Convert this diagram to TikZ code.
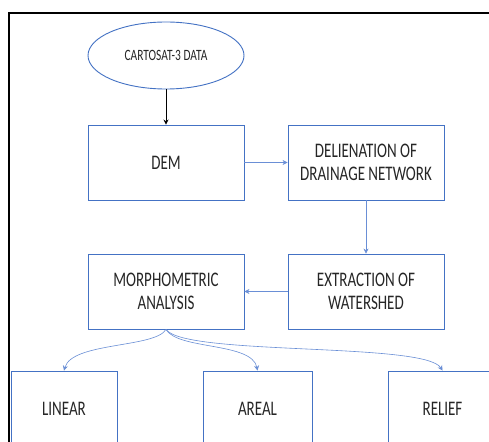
\documentclass[tikz,border=0pt]{standalone}
\usepackage{fontspec}
\setmainfont{Carlito}
\usetikzlibrary{shapes.geometric,arrows.meta}
\definecolor{boxblue}{HTML}{4472C4}
\definecolor{arrblue}{HTML}{6A8FD6}
\newcommand{\tx}[1]{\scalebox{1}[1.38]{#1}}
\tikzset{
  stepbox/.style={draw=boxblue, line width=0.9pt, minimum width=156pt, minimum height=75pt, inner sep=0pt, align=center, font=\fontsize{15}{23}\selectfont, text=black!85},
  lowbox/.style={stepbox, minimum height=76pt},
  conn/.style={draw=arrblue, line width=0.6pt, -{Stealth[length=5pt,width=5pt]}},
}
\begin{document}
\begin{tikzpicture}[x=1pt,y=-1pt]
\clip (0,0) rectangle (489,441);
\fill[white] (0,0) rectangle (489,441);
\draw[black, line width=1.6pt] (489,13) -- (9,13) -- (9,450);
\node[ellipse, draw=boxblue, line width=0.9pt, minimum width=156pt, minimum height=67pt, inner sep=0pt, font=\fontsize{11.4}{13}\selectfont, text=black!85] (src) at (166,55.5) {\tx{CARTOSAT-3 DATA}};
\node[stepbox] (dem) at (166,162.5) {\tx{DEM}};
\node[stepbox] (del) at (366,162.5) {\tx{DELIENATION OF}\\\tx{DRAINAGE NETWORK}};
\node[stepbox] (ext) at (366,291.5) {\tx{EXTRACTION OF}\\\tx{WATERSHED}};
\node[stepbox] (mor) at (166,291.5) {\tx{MORPHOMETRIC}\\\tx{ANALYSIS}};
\node[lowbox, minimum width=106pt] (lin) at (64,409) {\tx{LINEAR}};
\node[lowbox, minimum width=109pt] (are) at (257.5,409) {\tx{AREAL}};
\node[lowbox, minimum width=109pt] (rel) at (442.5,409) {\tx{RELIEF}};
\draw[black, line width=0.8pt, -{Stealth[length=5pt,width=5pt]}] (src) -- (dem);
\draw[conn] (dem) -- (del);
\draw[conn] (del) -- (ext);
\draw[conn] (ext) -- (mor);
\draw[conn] (mor.south) .. controls (155,348) and (72,342) .. (lin.north);
\draw[conn] (mor.south) .. controls (178,350) and (252,342) .. (are.north);
\draw[conn] (mor.south) .. controls (185,356) and (425,342) .. (rel.north);
\end{tikzpicture}
\end{document}
